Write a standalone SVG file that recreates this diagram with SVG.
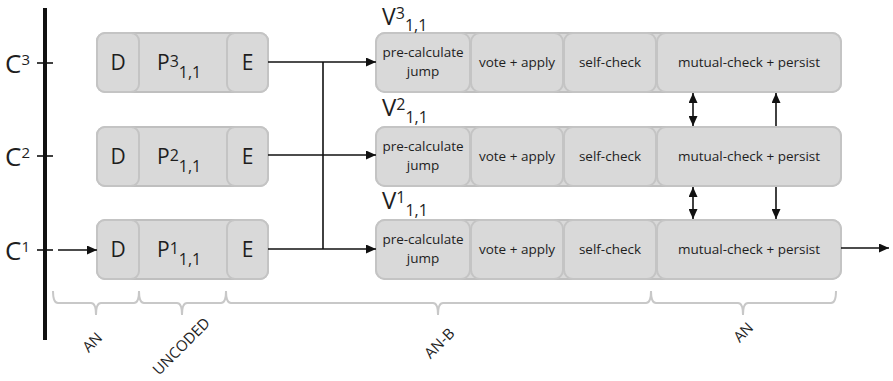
<svg xmlns="http://www.w3.org/2000/svg" width="893" height="381" viewBox="0 0 893 381">
<style>
.box{fill:#d9d9d9;stroke:#bfbfbf;stroke-width:2}
.cell{fill:#d9d9d9;stroke:#c4c4c4;stroke-width:2}
.t{font-family:"Open Sans","Noto Sans",sans-serif;fill:#1e1e1e}
.lbl{font-size:13.5px;text-anchor:middle}
.big{font-size:21px}
.cl{font-size:26px}
.vl{font-size:24px}
.ln{stroke:#111;stroke-width:1.6;fill:none}
.br{stroke:#c8c8c8;stroke-width:2;fill:none}
.bt{font-size:15px;text-anchor:middle}
</style>
<defs>
<marker id="ah" markerUnits="userSpaceOnUse" markerWidth="10" markerHeight="9" refX="10" refY="4.5" orient="auto-start-reverse">
<path d="M0,0 L10,4.5 L0,9 z" fill="#111"/>
</marker>
</defs>
<rect width="893" height="381" fill="#fff"/>

<g id="axis">
<line x1="45" y1="8" x2="45" y2="340" stroke="#111" stroke-width="4"/>
<line x1="37" y1="63" x2="53" y2="63" stroke="#111" stroke-width="1.6"/>
<line x1="37" y1="156" x2="53" y2="156" stroke="#111" stroke-width="1.6"/>
<line x1="37" y1="250" x2="53" y2="250" stroke="#111" stroke-width="1.6"/>
<text class="t cl" x="5" y="73">C<tspan font-size="15" y="65">3</tspan></text>
<text class="t cl" x="5" y="166">C<tspan font-size="15" y="158">2</tspan></text>
<text class="t cl" x="5" y="260">C<tspan font-size="15" y="252">1</tspan></text>
</g>

<g id="P3">
<rect class="box" x="97" y="33" width="171" height="59" rx="8"/>
<rect class="cell" x="97" y="33" width="42" height="59" rx="8"/>
<rect class="cell" x="227" y="33" width="41" height="59" rx="8"/>
<text class="t big" x="118" y="70" text-anchor="middle">D</text>
<text class="t big" x="247.5" y="70" text-anchor="middle">E</text>
<text class="t big" x="157" y="70">P<tspan font-size="16" y="67">3</tspan><tspan font-size="16" y="78">1,1</tspan></text>
</g>
<g id="P2">
<rect class="box" x="97" y="127" width="171" height="59" rx="8"/>
<rect class="cell" x="97" y="127" width="42" height="59" rx="8"/>
<rect class="cell" x="227" y="127" width="41" height="59" rx="8"/>
<text class="t big" x="118" y="164" text-anchor="middle">D</text>
<text class="t big" x="247.5" y="164" text-anchor="middle">E</text>
<text class="t big" x="157" y="164">P<tspan font-size="16" y="161">2</tspan><tspan font-size="16" y="172">1,1</tspan></text>
</g>
<g id="P1">
<rect class="box" x="97" y="220" width="171" height="59" rx="8"/>
<rect class="cell" x="97" y="220" width="42" height="59" rx="8"/>
<rect class="cell" x="227" y="220" width="41" height="59" rx="8"/>
<text class="t big" x="118" y="257" text-anchor="middle">D</text>
<text class="t big" x="247.5" y="257" text-anchor="middle">E</text>
<text class="t big" x="157" y="257">P<tspan font-size="16" y="254">1</tspan><tspan font-size="16" y="265">1,1</tspan></text>
</g>

<g id="V3">
<rect class="box" x="376" y="33" width="465" height="59" rx="9"/>
<rect class="cell" x="376" y="33" width="94" height="59" rx="9"/>
<rect class="cell" x="471" y="33" width="92" height="59" rx="9"/>
<rect class="cell" x="564" y="33" width="92" height="59" rx="9"/>
<rect class="cell" x="657" y="33" width="184" height="59" rx="9"/>
<text class="t lbl" x="423" y="57">pre-calculate</text>
<text class="t lbl" x="423" y="76">jump</text>
<text class="t lbl" x="517" y="67">vote + apply</text>
<text class="t lbl" x="610" y="67">self-check</text>
<text class="t lbl" x="749" y="67">mutual-check + persist</text>
<text class="t" font-size="23" x="382" y="25">V<tspan font-size="16" y="19">3</tspan><tspan font-size="16" y="31">1,1</tspan></text>
</g>
<g id="V2">
<rect class="box" x="376" y="127" width="465" height="59" rx="9"/>
<rect class="cell" x="376" y="127" width="94" height="59" rx="9"/>
<rect class="cell" x="471" y="127" width="92" height="59" rx="9"/>
<rect class="cell" x="564" y="127" width="92" height="59" rx="9"/>
<rect class="cell" x="657" y="127" width="184" height="59" rx="9"/>
<text class="t lbl" x="423" y="151">pre-calculate</text>
<text class="t lbl" x="423" y="170">jump</text>
<text class="t lbl" x="517" y="161">vote + apply</text>
<text class="t lbl" x="610" y="161">self-check</text>
<text class="t lbl" x="749" y="161">mutual-check + persist</text>
<text class="t vl" x="382" y="116">V<tspan font-size="16" y="110">2</tspan><tspan font-size="16" y="123">1,1</tspan></text>
</g>
<g id="V1">
<rect class="box" x="376" y="220" width="465" height="59" rx="9"/>
<rect class="cell" x="376" y="220" width="94" height="59" rx="9"/>
<rect class="cell" x="471" y="220" width="92" height="59" rx="9"/>
<rect class="cell" x="564" y="220" width="92" height="59" rx="9"/>
<rect class="cell" x="657" y="220" width="184" height="59" rx="9"/>
<text class="t lbl" x="423" y="244">pre-calculate</text>
<text class="t lbl" x="423" y="263">jump</text>
<text class="t lbl" x="517" y="254">vote + apply</text>
<text class="t lbl" x="610" y="254">self-check</text>
<text class="t lbl" x="749" y="254">mutual-check + persist</text>
<text class="t vl" x="382" y="209">V<tspan font-size="16" y="203">1</tspan><tspan font-size="16" y="216">1,1</tspan></text>
</g>

<g id="connectors">
<line class="ln" x1="58" y1="250" x2="97" y2="250" marker-end="url(#ah)"/>
<line class="ln" x1="268" y1="62" x2="376" y2="62" marker-end="url(#ah)"/>
<line class="ln" x1="268" y1="155" x2="376" y2="155" marker-end="url(#ah)"/>
<line class="ln" x1="268" y1="249" x2="376" y2="249" marker-end="url(#ah)"/>
<line class="ln" x1="323" y1="62" x2="323" y2="249"/>
<line class="ln" x1="841" y1="248" x2="889" y2="248" marker-end="url(#ah)"/>
<line class="ln" x1="693" y1="93" x2="693" y2="126" marker-start="url(#ah)" marker-end="url(#ah)"/>
<line class="ln" x1="776" y1="126" x2="776" y2="93" marker-end="url(#ah)"/>
<line class="ln" x1="693" y1="187" x2="693" y2="219" marker-start="url(#ah)" marker-end="url(#ah)"/>
<line class="ln" x1="776" y1="187" x2="776" y2="219" marker-end="url(#ah)"/>
</g>

<g id="braces">
<path class="br" d="M53,291 q0,12 5,12 H91 q5,0 5,12 q0,-12 5,-12 H134 q5,0 5,-12"/>
<path class="br" d="M139,291 q0,12 5,12 H177 q5,0 5,12 q0,-12 5,-12 H221 q5,0 5,-12"/>
<path class="br" d="M226,291 q0,12 5,12 H433 q5,0 5,12 q0,-12 5,-12 H646 q5,0 5,-12"/>
<path class="br" d="M651,291 q0,12 5,12 H738 q5,0 5,12 q0,-12 5,-12 H831 q5,0 5,-12"/>
<text class="t bt" transform="translate(96,346) rotate(-45)">AN</text>
<text class="t bt" transform="translate(185,350) rotate(-45)">UNCODED</text>
<text class="t bt" transform="translate(443,347) rotate(-45)">AN-B</text>
<text class="t bt" transform="translate(747,336) rotate(-45)">AN</text>
</g>
</svg>
